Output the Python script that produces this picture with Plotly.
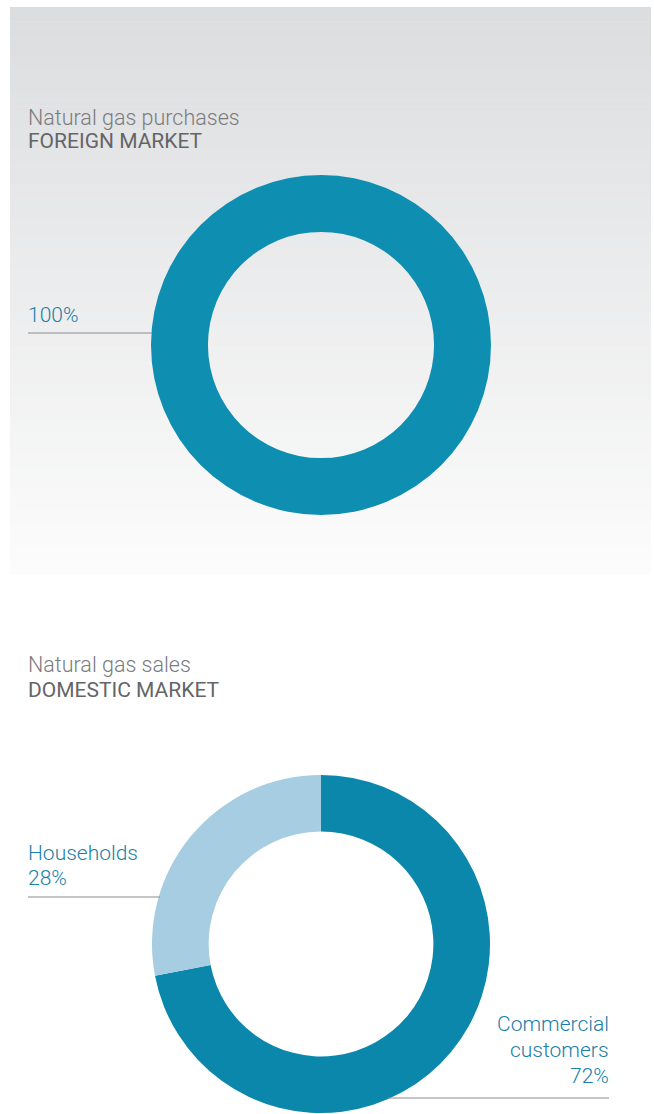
import plotly.graph_objects as go

W, H = 654, 1114

# Data
purch_labels = ["Foreign market"]
purch_values = [100]
sales_labels = ["Commercial customers", "Households"]
sales_values = [72, 28]

teal = "#0e8eb1"
light = "#a6cde1"
label_col = "#1a80a6"
grey_dark = "#646567"
grey_light = "#7a7b7d"
font = "Roboto"

fig = go.Figure()

# background gradient panel (bands)
top = (220, 221, 223)
bot = (252, 252, 252)
y0, y1 = 7, 574
n = 80
shapes = []
for i in range(n):
    t = i / (n - 1)
    c = tuple(int(round(top[k] + (bot[k] - top[k]) * t)) for k in range(3))
    ya = y0 + (y1 - y0) * i / n
    yb = y0 + (y1 - y0) * (i + 1) / n + 0.6
    shapes.append(dict(type="rect", xref="x", yref="y", x0=10, x1=651, y0=ya, y1=yb,
                       fillcolor="rgb(%d,%d,%d)" % c, line=dict(width=0), layer="below"))

# leader lines
for (xa, xb, yy) in [(28, 152, 333), (28, 160, 897), (388, 609, 1098)]:
    shapes.append(dict(type="line", xref="x", yref="y", x0=xa, x1=xb, y0=yy, y1=yy,
                       line=dict(color="#8c8c8c", width=1.2), layer="above"))

def dom(cx, cy, r):
    ylo = max(0.0, (H - (cy + r)) / H)
    yhi = min(1.0, (H - (cy - r)) / H)
    return dict(x=[(cx - r) / W, (cx + r) / W], y=[ylo, yhi])

fig.add_trace(go.Pie(labels=purch_labels, values=purch_values, hole=0.665, sort=False,
                     direction="clockwise", rotation=0, textinfo="none", hoverinfo="label+percent",
                     marker=dict(colors=[teal], line=dict(width=0)), domain=dom(321, 345, 170),
                     showlegend=False))
fig.add_trace(go.Pie(labels=sales_labels, values=sales_values, hole=0.665, sort=False,
                     direction="clockwise", rotation=0, textinfo="none", hoverinfo="label+percent",
                     marker=dict(colors=["#0a87aa", light], line=dict(width=0)), domain=dom(321, 944, 169),
                     showlegend=False))

ann = []
def txt(x, y, s, size, color, xanchor="left", weight=400):
    ann.append(dict(x=x, y=y, xref="x", yref="y", text=s, showarrow=False, xanchor=xanchor,
                    yanchor="middle", align=xanchor if xanchor != "center" else "center",
                    font=dict(family=font, size=size, color=color, weight=weight)))

FS = 21
txt(26, 117, "Natural gas purchases", FS + 0.5, grey_light, weight=300)
txt(26, 141, "FOREIGN MARKET", FS, grey_dark, weight=400)
txt(26, 315, "100%", FS, label_col, weight=300)

txt(26, 664, "Natural gas sales", FS + 0.5, grey_light, weight=300)
txt(26, 690, "DOMESTIC MARKET", FS, grey_dark, weight=400)
txt(26, 853, "Households", FS, label_col, weight=300)
txt(26, 878, "28%", FS, label_col, weight=300)
txt(611, 1024, "Commercial", FS, label_col, "right", 300)
txt(611, 1050, "customers", FS, label_col, "right", 300)
txt(611, 1076, "72%", FS, label_col, "right", 300)

fig.update_layout(
    width=W, height=H, margin=dict(l=0, r=0, t=0, b=0),
    paper_bgcolor="white", plot_bgcolor="rgba(0,0,0,0)",
    xaxis=dict(range=[0, W], visible=False, fixedrange=True),
    yaxis=dict(range=[H, 0], visible=False, fixedrange=True),
    shapes=shapes, annotations=ann, showlegend=False,
)
fig.write_html("out.html")
